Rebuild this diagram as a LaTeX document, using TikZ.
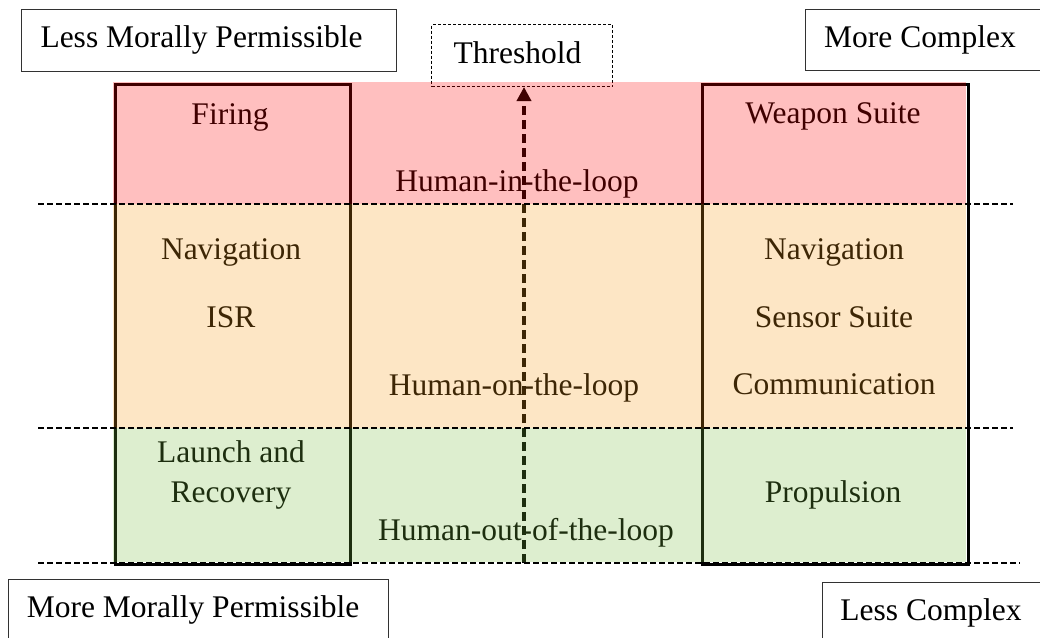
\documentclass[tikz,border=0pt]{standalone}
\usepackage{fontspec}
\setmainfont{Liberation Serif}
\usetikzlibrary{arrows.meta}
\definecolor{tintred}{RGB}{255,0,0}
\definecolor{tintpeach}{RGB}{247,155,23}
\definecolor{tintgreen}{RGB}{119,187,63}
\definecolor{boxline}{RGB}{50,50,50}
\begin{document}
\begin{tikzpicture}[x=1pt,y=-1pt,
  lbl/.style={font=\fontsize{31.5}{36}\selectfont, anchor=base, inner sep=0pt},
  column/.style={draw=black, line width=3pt},
  tag/.style={draw=boxline, line width=1.2pt, anchor=north west, inner sep=0pt},
  thresh/.style={draw=black, line width=1pt, dash pattern=on 3pt off 2pt, anchor=north west, inner sep=0pt},
  level/.style={draw=black, line width=2.4pt, dash pattern=on 6pt off 3pt},
  rise/.style={draw=black, line width=4pt, dash pattern=on 9pt off 5pt,
    -{Triangle[length=14pt,width=14pt]}},
  band/.style={fill opacity=0.25, draw=none}]
\useasboundingbox (0,0) rectangle (1040,637);

% corner captions
\node[tag, minimum width=375pt, minimum height=62pt] (lmpbox) at (21,9) {};
\node[tag, minimum width=240pt, minimum height=61pt] (mcbox) at (805,9) {};
\node[tag, minimum width=380pt, minimum height=80pt] (mmpbox) at (8,579) {};
\node[tag, minimum width=240pt, minimum height=80pt] (lcbox) at (822,582) {};
\node[thresh, minimum width=181pt, minimum height=62pt] (thr) at (431,24) {};

\node[lbl] (lmp) at (201.5,47) {Less Morally Permissible};
\node[lbl] (mc) at (920,47) {More Complex};
\node[lbl] (mmp) at (193,617) {More Morally Permissible};
\node[lbl] (lc) at (931,620) {Less Complex};
\node[lbl] (thrtext) at (517.5,63) {Threshold};

% the two columns of functions
\node[column, anchor=north west, minimum width=235pt, minimum height=480pt, inner sep=0pt] (leftcol) at (114,83) {};
\node[column, anchor=north west, minimum width=266pt, minimum height=480pt, inner sep=0pt] (rightcol) at (701,83) {};

% rising threshold arrow
\coordinate (risebase) at (524,563);
\draw[rise] (risebase) -- (risebase |- thr.south);

% texts inside the bands
\node[lbl] (firing) at (230,124) {Firing};
\node[lbl] (weapon) at (833,123) {Weapon Suite};
\node[lbl] (hitl) at (517,191) {Human-in-the-loop};
\node[lbl] (navl) at (231,259) {Navigation};
\node[lbl] (isr) at (231,327) {ISR};
\node[lbl] (navr) at (834,259) {Navigation};
\node[lbl] (sensor) at (834,327) {Sensor Suite};
\node[lbl] (comm) at (834,394) {Communication};
\node[lbl] (hotl) at (514,395) {Human-on-the-loop};
\node[lbl] (launch) at (231,462) {Launch and};
\node[lbl] (recovery) at (231,502) {Recovery};
\node[lbl] (prop) at (833,502) {Propulsion};
\node[lbl] (hootl) at (526,540) {Human-out-of-the-loop};

% translucent colour bands laid over the content
\fill[band, tintred] (112.5,81.5) rectangle (965.5,204);
\fill[band, tintpeach] (112.5,204) rectangle (965.5,428);
\fill[band, tintgreen] (112.5,428) rectangle (965.5,561.5);

% level separators
\coordinate (s1a) at (38,204);  \coordinate (s1b) at (1013,204);
\coordinate (s2a) at (38,428);  \coordinate (s2b) at (1013,428);
\coordinate (s3a) at (38,563);  \coordinate (s3b) at (1020,563);
\draw[level] (s1a) -- (s1b);
\draw[level] (s2a) -- (s2b);
\draw[level] (s3a) -- (s3b);
\end{tikzpicture}
\end{document}
